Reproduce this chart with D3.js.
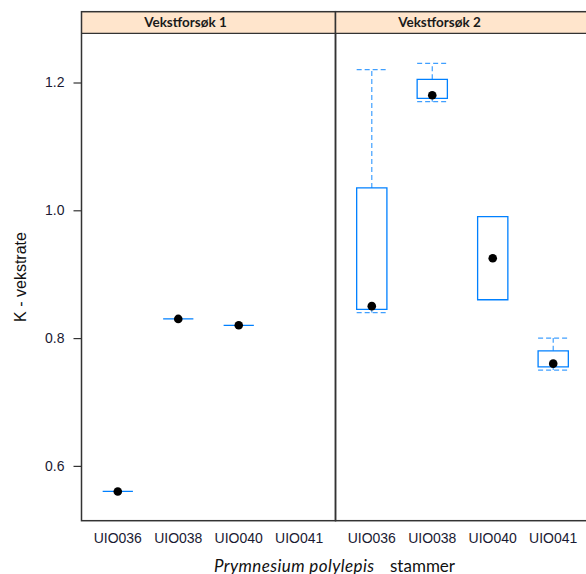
<!DOCTYPE html>
<html>
<head>
<meta charset="utf-8">
<script src="https://cdn.jsdelivr.net/npm/d3@7/dist/d3.min.js"></script>
<style>
  html, body { margin: 0; padding: 0; background: #fff; }
  svg { display: block; }
</style>
</head>
<body>
<svg id="chart" width="586" height="574"></svg>
<script>
// Growth rate (K) per Prymnesium polylepis strain, two growth experiments
const panels = ["Vekstforsøk 1", "Vekstforsøk 2"];
const strains = ["UIO036", "UIO038", "UIO040", "UIO041"];

// Five-number summaries per panel (null = no data for that strain)
const lowWhisker1  = [0.56, 0.83, 0.82, null];
const lowerHinge1  = [0.56, 0.83, 0.82, null];
const median1      = [0.56, 0.83, 0.82, null];
const upperHinge1  = [0.56, 0.83, 0.82, null];
const highWhisker1 = [0.56, 0.83, 0.82, null];

const lowWhisker2  = [0.84,  1.17,  0.86,  0.75];
const lowerHinge2  = [0.845, 1.175, 0.86,  0.755];
const median2      = [0.85,  1.18,  0.925, 0.76];
const upperHinge2  = [1.035, 1.205, 0.99,  0.78];
const highWhisker2 = [1.22,  1.23,  0.99,  0.80];

const yTicks = [0.6, 0.8, 1.0, 1.2];

const series = [
  { lo: lowWhisker1, q1: lowerHinge1, med: median1, q3: upperHinge1, hi: highWhisker1 },
  { lo: lowWhisker2, q1: lowerHinge2, med: median2, q3: upperHinge2, hi: highWhisker2 }
];

const svg = d3.select("#chart");
const frameLeft = 81.5, panelW = 254, frameTop = 11.7, stripH = 21.6, frameBottom = 520.7;
const plotTop = frameTop + stripH;

const y = d3.scaleLinear().domain([0.5142, 1.277]).range([frameBottom, plotTop]);

const boxCol = "#0080ff";
const frameCol = "#333";

panels.forEach((name, p) => {
  const x0 = frameLeft + p * panelW, x1 = x0 + panelW;
  const x = d3.scalePoint().domain(strains).range([x0, x1]).padding(0.6);
  const half = x.step() * 0.25;
  const g = svg.append("g");
  const s = series[p];

  // strip
  g.append("rect").attr("x", x0).attr("y", frameTop).attr("width", panelW).attr("height", stripH)
    .attr("fill", "#ffe5cc");
  g.append("text")
    .attr("x", x0 + panelW / 2 - 23).attr("y", frameTop + 15)
    .attr("text-anchor", "middle")
    .attr("font-family", "Lato, 'Open Sans', sans-serif")
    .attr("font-weight", "bold").attr("font-size", 13.5).attr("fill", "#1a1a1a")
    .text(name);

  strains.forEach((st, i) => {
    if (s.med[i] == null) return;
    const cx = x(st);
    // whiskers (dashed)
    const wh = g.append("g").attr("stroke", boxCol).attr("stroke-width", 1.2)
      .attr("stroke-dasharray", "5,3").attr("opacity", 0.75).attr("fill", "none");
    if (s.hi[i] > s.q3[i]) {
      wh.append("line").attr("x1", cx).attr("x2", cx).attr("y1", y(s.q3[i])).attr("y2", y(s.hi[i]));
      wh.append("line").attr("x1", cx - half).attr("x2", cx + half).attr("y1", y(s.hi[i])).attr("y2", y(s.hi[i]));
    }
    if (s.lo[i] < s.q1[i]) {
      wh.append("line").attr("x1", cx).attr("x2", cx).attr("y1", y(s.q1[i])).attr("y2", y(s.lo[i]));
      wh.append("line").attr("x1", cx - half).attr("x2", cx + half).attr("y1", y(s.lo[i])).attr("y2", y(s.lo[i]));
    }
    // box (path so a zero-height box still shows as a line)
    const bx = cx - half, bw = half * 2, yt = y(s.q3[i]), yb = y(s.q1[i]);
    g.append("path")
      .attr("d", `M${bx},${yb}L${bx + bw},${yb}L${bx + bw},${yt}L${bx},${yt}Z`)
      .attr("fill", "none").attr("stroke", boxCol).attr("stroke-width", 1.3);
    // median dot
    g.append("circle").attr("cx", cx).attr("cy", y(s.med[i])).attr("r", 4.3).attr("fill", "#000");
  });

  // x tick labels
  strains.forEach(st => {
    g.append("text").attr("x", x(st)).attr("y", 543)
      .attr("text-anchor", "middle")
      .attr("font-family", "'Liberation Sans', Arial, sans-serif")
      .attr("font-size", 14).attr("fill", "#1a1a33")
      .text(st);
  });

  // panel frame
  g.append("rect").attr("x", x0).attr("y", frameTop).attr("width", panelW).attr("height", frameBottom - frameTop)
    .attr("fill", "none").attr("stroke", frameCol).attr("stroke-width", 1.5);
  g.append("line").attr("x1", x0).attr("x2", x1).attr("y1", plotTop).attr("y2", plotTop)
    .attr("stroke", frameCol).attr("stroke-width", 1.2);
});

// y axis
const yAxis = d3.axisLeft(y).tickValues(yTicks).tickFormat(d3.format(".1f")).tickSizeOuter(0).tickSize(8).tickPadding(9);
const ya = svg.append("g").attr("transform", `translate(${frameLeft},0)`).call(yAxis);
ya.select(".domain").remove();
ya.selectAll("line").attr("stroke", frameCol).attr("stroke-width", 1.2);
ya.selectAll("text").attr("font-family", "'Liberation Sans', Arial, sans-serif")
  .attr("font-size", 14).attr("fill", "#1a1a33");

// y title
svg.append("text")
  .attr("transform", `translate(26,${(plotTop + frameBottom) / 2}) rotate(-90)`)
  .attr("text-anchor", "middle")
  .attr("font-family", "'Liberation Sans', Arial, sans-serif")
  .attr("font-size", 16).attr("fill", "#111")
  .text("K - vekstrate");

// x title
const xt = svg.append("text").attr("x", 214).attr("y", 571.5)
  .attr("font-family", "Lato, 'Open Sans', sans-serif").attr("font-size", 17).attr("fill", "#111");
xt.append("tspan").attr("font-style", "italic").attr("textLength", 160).text("Prymnesium polylepis");
xt.append("tspan").attr("x", 390).text("stammer");
</script>
</body>
</html>
